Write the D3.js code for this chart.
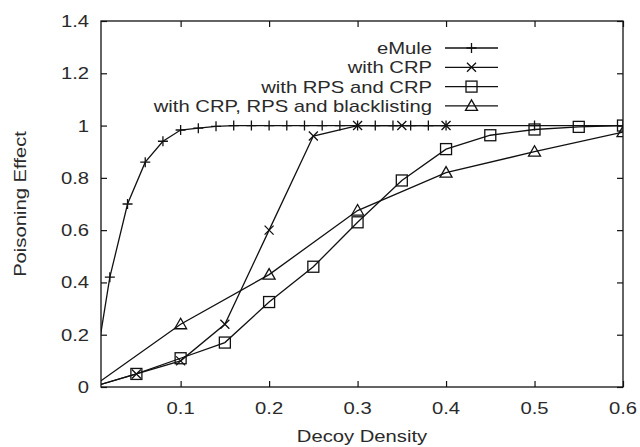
<!DOCTYPE html>
<html><head><meta charset="utf-8">
<script src="https://cdn.jsdelivr.net/npm/d3@7"></script>
<style>body{margin:0;background:#fff;} svg{display:block;} text{font-family:"Liberation Sans",Arial,Helvetica,sans-serif;fill:#2a2a2a;}</style>
</head><body>
<svg id="c" width="640" height="447"></svg>
<script>
// Data
const xTicks = [0.1, 0.2, 0.3, 0.4, 0.5, 0.6];
const yTicks = [0, 0.2, 0.4, 0.6, 0.8, 1, 1.2, 1.4];
const yTickLabels = ["0", "0.2", "0.4", "0.6", "0.8", "1", "1.2", "1.4"];
const xTickLabels = ["0.1", "0.2", "0.3", "0.4", "0.5", "0.6"];

const emuleX = [0, 0.02, 0.04, 0.06, 0.08, 0.10, 0.12, 0.14, 0.16, 0.18, 0.20, 0.22, 0.24, 0.26, 0.28, 0.30, 0.32, 0.34, 0.36, 0.38, 0.40, 0.50, 0.60];
const emuleY = [0, 0.42, 0.70, 0.86, 0.94, 0.983, 0.99, 0.997, 1, 1, 1, 1, 1, 1, 1, 1, 1, 1, 1, 1, 1, 1, 1];
const crpX = [0, 0.05, 0.10, 0.15, 0.20, 0.25, 0.30, 0.35, 0.40];
const crpY = [0, 0.05, 0.10, 0.24, 0.60, 0.96, 1, 1, 1];
const rpsX = [0, 0.05, 0.10, 0.15, 0.20, 0.25, 0.30, 0.35, 0.40, 0.45, 0.50, 0.55, 0.60];
const rpsY = [0, 0.05, 0.11, 0.17, 0.325, 0.46, 0.63, 0.79, 0.91, 0.963, 0.985, 0.995, 1.0];
const blX = [0, 0.10, 0.20, 0.30, 0.40, 0.50, 0.60];
const blY = [0, 0.24, 0.43, 0.675, 0.82, 0.90, 0.975];

const seriesNames = ["eMule", "with CRP", "with RPS and CRP", "with CRP, RPS and blacklisting"];
const markerTypes = ["plus", "cross", "square", "triangle"];

const series = [
  {name: seriesNames[0], m: markerTypes[0], pts: emuleX.map((x,i)=>[x, emuleY[i]])},
  {name: seriesNames[1], m: markerTypes[1], pts: crpX.map((x,i)=>[x, crpY[i]])},
  {name: seriesNames[2], m: markerTypes[2], pts: rpsX.map((x,i)=>[x, rpsY[i]])},
  {name: seriesNames[3], m: markerTypes[3], pts: blX.map((x,i)=>[x, blY[i]])}
];

const L = 101, R = 623, T = 21, B = 387;
const FS = 17, SX = 1.19;
const ink = "#111";

const svg = d3.select("#c");
const x = d3.scaleLinear().domain([0.01, 0.6]).range([L, R]);
const y = d3.scaleLinear().domain([0, 1.4]).range([B, T]);

function txt(g, s, px, py, anchor, rot) {
  const t = g.append("g").attr("transform", `translate(${px},${py})` + (rot ? ` rotate(${rot})` : "") + ` scale(${SX},1)`);
  t.append("text").attr("text-anchor", anchor).attr("font-size", FS).text(s);
}

svg.append("defs").append("clipPath").attr("id", "clip")
  .append("rect").attr("x", L).attr("y", T).attr("width", R - L).attr("height", B - T);

// axes with inward ticks
const axB = svg.append("g").attr("transform", `translate(0,${B})`)
  .call(d3.axisBottom(x).tickValues(xTicks).tickSizeInner(-6).tickSizeOuter(0).tickFormat(""));
const axT = svg.append("g").attr("transform", `translate(0,${T})`)
  .call(d3.axisTop(x).tickValues(xTicks).tickSizeInner(-6).tickSizeOuter(0).tickFormat(""));
const axL = svg.append("g").attr("transform", `translate(${L},0)`)
  .call(d3.axisLeft(y).tickValues(yTicks).tickSizeInner(-6).tickSizeOuter(0).tickFormat(""));
const axR = svg.append("g").attr("transform", `translate(${R},0)`)
  .call(d3.axisRight(y).tickValues(yTicks).tickSizeInner(-6).tickSizeOuter(0).tickFormat(""));
[axB, axT, axL, axR].forEach(a => { a.select(".domain").remove(); a.selectAll("line").attr("stroke", ink).attr("stroke-width", 1.2); });

svg.append("rect").attr("x", L).attr("y", T).attr("width", R - L).attr("height", B - T)
  .attr("fill", "none").attr("stroke", ink).attr("stroke-width", 1.3);

// tick labels
const lab = svg.append("g");
yTicks.forEach((v, i) => txt(lab, yTickLabels[i], 89, y(v) + 6, "end"));
xTicks.forEach((v, i) => txt(lab, xTickLabels[i], x(v), 414, "middle"));
txt(lab, "Decoy Density", (L + R) / 2, 442, "middle");
txt(lab, "Poisoning Effect", 26, (T + B) / 2, "middle", -90);

function marker(g, type, cx, cy) {
  if (type === "plus") {
    g.append("path").attr("d", `M${cx-5},${cy}H${cx+5}M${cx},${cy-5}V${cy+5}`);
  } else if (type === "cross") {
    const s = 4.5;
    g.append("path").attr("d", `M${cx-s},${cy-s}L${cx+s},${cy+s}M${cx-s},${cy+s}L${cx+s},${cy-s}`);
  } else if (type === "square") {
    g.append("rect").attr("x", cx - 5.5).attr("y", cy - 5.5).attr("width", 11).attr("height", 11).attr("fill", "none");
  } else {
    g.append("path").attr("d", `M${cx},${cy-6}L${cx+6},${cy+4.5}L${cx-6},${cy+4.5}Z`).attr("fill", "none");
  }
}

const line = d3.line().x(d => x(d[0])).y(d => y(d[1]));
const plot = svg.append("g").attr("clip-path", "url(#clip)");
series.forEach(s => {
  plot.append("path").datum(s.pts).attr("d", line).attr("fill", "none").attr("stroke", ink).attr("stroke-width", 1.3);
  const mg = plot.append("g").attr("stroke", ink).attr("stroke-width", 1.3).attr("fill", "none");
  s.pts.filter(p => p[0] >= 0.01).forEach(p => marker(mg, s.m, x(p[0]), y(p[1])));
});

// legend
const leg = svg.append("g");
series.forEach((s, i) => {
  const cy = 48 + i * 19.3;
  txt(leg, s.name, 432, cy + 6, "end");
  leg.append("line").attr("x1", 445).attr("x2", 498).attr("y1", cy).attr("y2", cy).attr("stroke", ink).attr("stroke-width", 1.3);
  const mg = leg.append("g").attr("stroke", ink).attr("stroke-width", 1.3).attr("fill", "none");
  marker(mg, s.m, 471.5, cy);
});
</script>
</body></html>
